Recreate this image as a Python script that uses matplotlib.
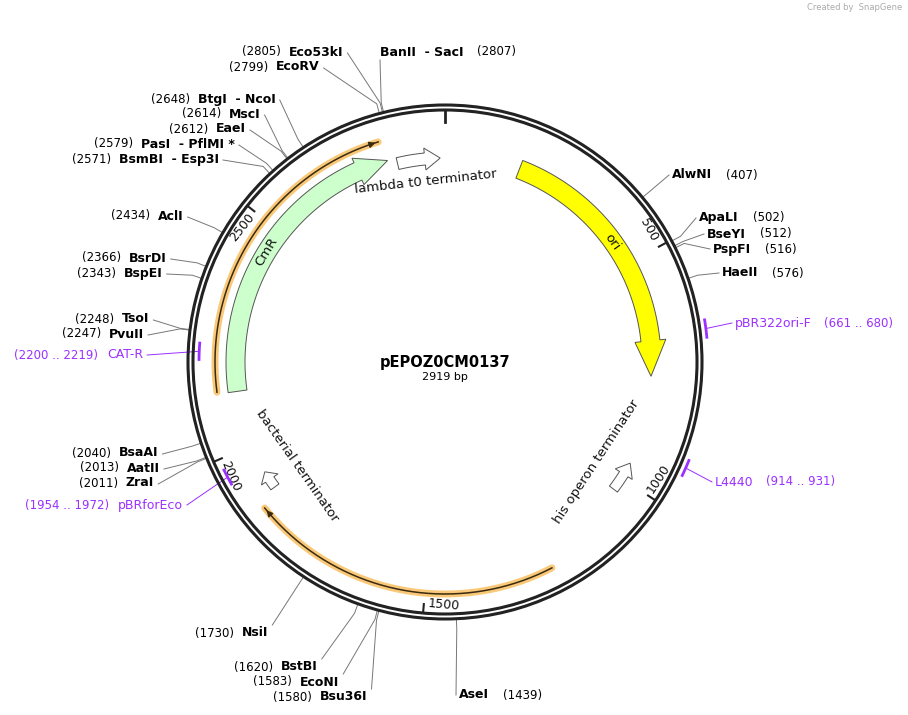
import numpy as np
import matplotlib.pyplot as plt
from matplotlib.patches import Polygon, Circle

TOTAL = 2919
CX, CY = 445, 362
R_OUT, R_IN = 257, 252

# enzyme sites: name, position, label x, label y, side
enz_names = ["Eco53kI", "BanII  - SacI", "EcoRV", "BtgI  - NcoI", "MscI", "EaeI",
             "PasI  - PflMI *", "BsmBI  - Esp3I", "AclI", "BsrDI", "BspEI", "TsoI",
             "PvuII", "BsaAI", "AatII", "ZraI", "NsiI", "BstBI", "EcoNI", "Bsu36I",
             "AseI", "AlwNI", "ApaLI", "BseYI", "PspFI", "HaeII"]
enz_pos = [2805, 2807, 2799, 2648, 2614, 2612, 2579, 2571, 2434, 2366, 2343, 2248,
           2247, 2040, 2013, 2011, 1730, 1620, 1583, 1580, 1439, 407, 502, 512, 516, 576]
enz_x = [289, 380, 276, 198, 229, 216, 141, 119, 158, 129, 124, 122, 109, 119, 127, 126,
         242, 281, 300, 320, 459, 672, 699, 707, 713, 722]
enz_y = [52, 52, 67, 99, 114, 129, 144, 159, 216, 258, 273, 319, 334, 453, 468, 483,
         633, 667, 682, 697, 695, 175, 218, 234, 249, 273]
enz_side = ["L", "R", "L", "L", "L", "L", "L", "L", "L", "L", "L", "L", "L", "L", "L", "L",
            "B", "B", "B", "B", "R", "R", "R", "R", "R", "R"]

# primers (forward primers sit outside the ring, reverse inside)
pr_names = ["pBR322ori-F", "L4440", "pBRforEco", "CAT-R"]
pr_start = [661, 914, 1954, 2200]
pr_end = [680, 931, 1972, 2219]
pr_fwd = [True, True, False, False]
pr_x = [735, 715, 118, 107]
pr_y = [323, 482, 505, 355]
pr_side = ["R", "R", "L", "L"]

ticks = [500, 1000, 1500, 2000, 2500]


def pt(bp, r):
    t = np.radians(360.0 * bp / TOTAL)
    return CX + r * np.sin(t), CY - r * np.cos(t)


def arc(b0, b1, r, n=80):
    bs = np.linspace(b0, b1, n)
    return [pt(b, r) for b in bs]


def arrow(ax, b0, b1, r_in, r_out, head_bp, head_extra, fc, ec="#555555"):
    # b0 -> b1, head at b1
    sgn = 1 if b1 > b0 else -1
    hb = b1 - sgn * head_bp
    pts = arc(b0, hb, r_out) + [pt(hb, r_out + head_extra), pt(b1, (r_in + r_out) / 2),
                                 pt(hb, r_in - head_extra)] + arc(hb, b0, r_in)
    ax.add_patch(Polygon(pts, closed=True, fc=fc, ec=ec, lw=0.7, zorder=3))


def tan_rot(bp):
    rot = -360.0 * bp / TOTAL
    rot = (rot + 180) % 360 - 180
    if rot < -90 or rot > 90:
        rot += 180
    return rot


fig = plt.figure(figsize=(9.08, 7.15), dpi=100)
ax = fig.add_axes([0, 0, 1, 1])
ax.set_xlim(0, 908)
ax.set_ylim(715, 0)
ax.axis("off")

for r in (R_OUT, R_IN):
    ax.add_patch(Circle((CX, CY), r, fill=False, ec="#222222", lw=2.2, zorder=4))

# ticks
x0, y0 = pt(0, R_IN - 1)
x1, y1 = pt(0, R_IN - 12)
ax.plot([x0, x1], [y0, y1], color="#222222", lw=2, zorder=4)
for t in ticks:
    x0, y0 = pt(t, R_IN - 1)
    x1, y1 = pt(t, R_IN - 9)
    ax.plot([x0, x1], [y0, y1], color="#222222", lw=1.5, zorder=4)
    tx, ty = pt(t - 38, R_IN - 9)
    ax.text(tx, ty, str(t), fontsize=9, rotation=tan_rot(t), ha="center", va="center",
            color="#111111")

# features
arrow(ax, 171, 762, 197, 216, 80, 6, "#ffff00")
arrow(ax, 2124, 2790, 200, 219, 70, 5, "#ccffcc")
arrow(ax, 2810, 2908, 198, 210, 35, 5, "white")
arrow(ax, 1030, 962, 206, 216, 28, 5, "white")
arrow(ax, 1895, 1935, 206, 216, 20, 5, "white")

for b0, b1, r in ((2128, 2782, 230), (1237, 1873, 232)):
    xs, ys = zip(*arc(b0, b1, r, 200))
    ax.plot(xs, ys, color="#f9c46b", lw=5, alpha=0.9, solid_capstyle="round", zorder=3)
    ax.plot(xs, ys, color="#3a2a10", lw=1.1, zorder=3)
    hx, hy = pt(b1, r)
    ax.annotate("", xy=(hx, hy), xytext=pt(b1 - 18, r),
                arrowprops=dict(arrowstyle="-|>", color="#3a2a10", lw=1, mutation_scale=9),
                zorder=3)

feat_labels = [("lambda t0 terminator", 2868, 181), ("CmR", 2445, 210), ("ori", 440, 206),
               ("his operon terminator", 1000, 181), ("bacterial terminator", 1905, 181)]
for txt, bp, r in feat_labels:
    tx, ty = pt(bp, r)
    ax.text(tx, ty, txt, fontsize=9.5, rotation=tan_rot(bp), ha="center", va="center",
            color="#111111", zorder=5)

ax.text(CX, 362, "pEPOZ0CM0137", fontsize=10.5, fontweight="bold", ha="center", va="center")
ax.text(CX, 377, "2919 bp", fontsize=8, ha="center", va="center")
ax.text(902, 8, "Created by  SnapGene", fontsize=6, color="#aaaaaa", ha="right", va="center")

fig.canvas.draw()
rend = fig.canvas.get_renderer()
inv = ax.transData.inverted()


def text_box(t):
    bb = t.get_window_extent(rend)
    (xa, ya), (xb, yb) = inv.transform([[bb.x0, bb.y0], [bb.x1, bb.y1]])
    return xa, xb


for name, pos, x, y, side in zip(enz_names, enz_pos, enz_x, enz_y, enz_side):
    t = ax.text(x, y, name, fontsize=9, fontweight="bold", ha="left", va="center")
    xa, xb = text_box(t)
    if side == "R":
        ax.text(xb + 14, y, f"({pos})", fontsize=8.5, ha="left", va="center")
        if name.startswith("BanII"):
            cx_, cy_ = x, y + 8
        else:
            cx_, cy_ = x - 3, y
    else:
        ax.text(x - 8, y, f"({pos})", fontsize=8.5, ha="right", va="center")
        if side == "B":
            cx_, cy_ = xb + 4, y - 8
        else:
            cx_, cy_ = xb + 4, y + 1
    rx, ry = pt(pos, R_OUT + 1)
    ex, ey = pt(pos, R_OUT + 10)
    ax.plot([rx, ex, cx_], [ry, ey, cy_], color="#777777", lw=0.7, zorder=2)

for name, s, e, fwd, x, y, side in zip(pr_names, pr_start, pr_end, pr_fwd, pr_x, pr_y, pr_side):
    mid = (s + e) / 2
    rr = R_OUT + 6 if fwd else R_IN - 6
    xs, ys = zip(*arc(s - 6, e + 6, rr, 10))
    ax.plot(xs, ys, color="#9b30ff", lw=2, zorder=5)
    t = ax.text(x, y, name, fontsize=9, color="#9b30ff", ha="left", va="center")
    xa, xb = text_box(t)
    lab = f"({s} .. {e})"
    if side == "R":
        ax.text(xb + 12, y, lab, fontsize=8.5, color="#9b30ff", ha="left", va="center")
        cx_ = x - 3
    else:
        ax.text(x - 9, y, lab, fontsize=8.5, color="#9b30ff", ha="right", va="center")
        cx_ = xb + 4
    rx, ry = pt(mid, rr)
    ax.plot([rx, cx_], [ry, y], color="#9b30ff", lw=0.7, zorder=2)

fig.savefig("out.png", dpi=100)
